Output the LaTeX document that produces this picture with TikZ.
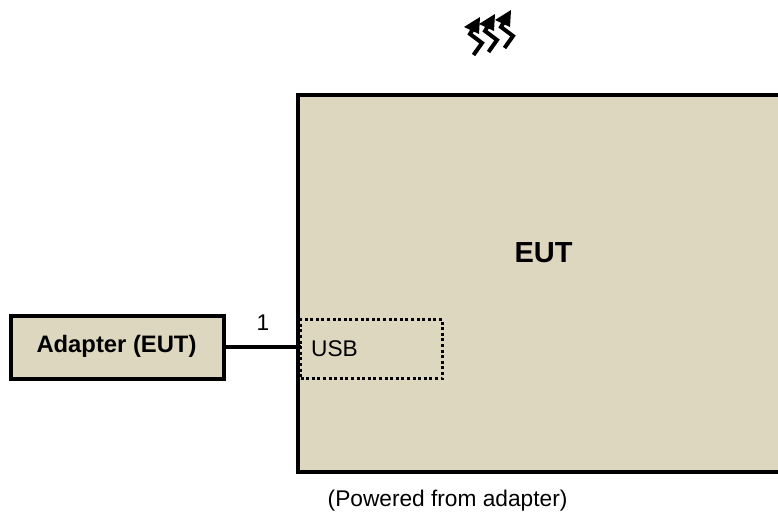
\documentclass[tikz,border=0pt]{standalone}
\usepackage{fontspec}
\setmainfont{Liberation Sans}
\definecolor{khaki}{RGB}{221,215,192}
\tikzset{
  x=1pt,y=-1pt,
  boxfill/.style={fill=khaki,draw=none,inner sep=0pt,outer sep=0pt},
  heavy/.style={draw=black,line width=4pt},
  conn/.style={draw=black,line width=4pt},
  dotbox/.style={draw=black,line width=3pt,dash pattern=on 3pt off 2.6pt,inner sep=0pt,outer sep=0pt,minimum width=142pt,minimum height=59pt},
  lbl/.style={font=\fontsize{22.7}{26}\selectfont,text=black,inner sep=0pt},
  boldlbl/.style={font=\fontsize{23.8}{28}\selectfont\bfseries,text=black,inner sep=0pt},
  wave/.style={draw=black,line width=4pt,line join=miter},
  wavehead/.style={fill=black,draw=none},
}
\begin{document}
\begin{tikzpicture}
\useasboundingbox (0,0) rectangle (778,513);
% EUT body, open on the right
\node[boxfill,minimum width=480pt,minimum height=377pt,anchor=north west] (eut) at (298,95) {};
\draw[heavy,line cap=butt] (eut.north east) -- (eut.north west) -- (eut.south west) -- (eut.south east);
\node[boldlbl,font=\fontsize{29}{34}\selectfont\bfseries] (eutlabel) at (543.5,253) {EUT};
% USB dotted area
\node[dotbox,anchor=north west] (usb) at (300.5,319.5) {};
\node[lbl,anchor=west] (usblabel) at (311,349) {USB};
% Adapter
\node[boxfill,heavy,minimum width=213pt,minimum height=63pt,anchor=north west] (adapter) at (10.5,315.5) {};
\node[boldlbl] (adapterlabel) at (116.5,346) {Adapter (EUT)};
\draw[conn] (adapter.east) -- (adapter.east -| usb.west);
\node[lbl] (one) at (263,323) {1};
% bottom caption
\node[lbl,anchor=west] (caption) at (327.5,501) {(Powered from adapter)};
% emission symbol
\foreach \dx/\dy in {0/0,15/-3,31/-7}{
  \begin{scope}[shift={(\dx,\dy)}]
    \draw[wave] (473.5,55) -- (482,43) -- (470,34) -- (474,27);
    \fill[wavehead] (464,27) -- (480,17) -- (479,34) -- cycle;
  \end{scope}
}
\end{tikzpicture}
\end{document}
